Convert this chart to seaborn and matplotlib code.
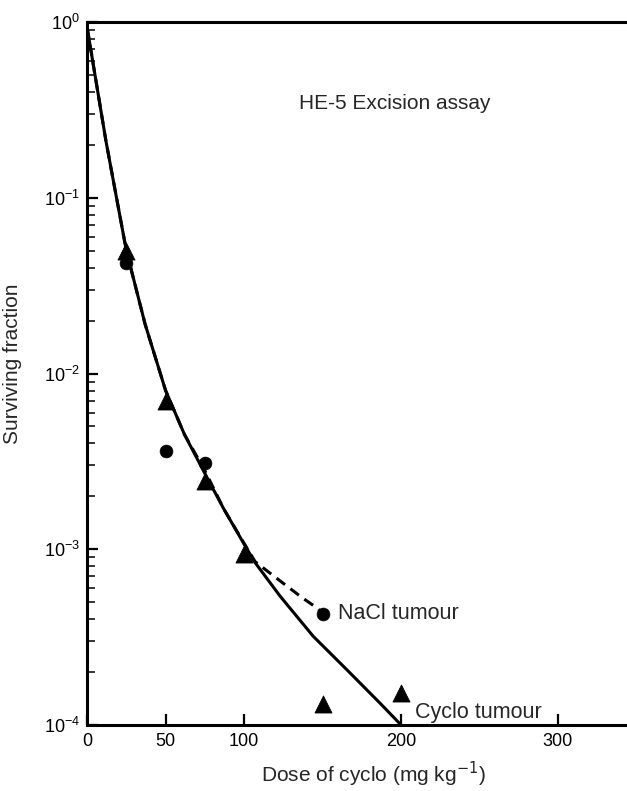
import numpy as np
import pandas as pd
import matplotlib
matplotlib.use("Agg")
import matplotlib.pyplot as plt
import seaborn as sns

# Data points
cyclo_dose = [25, 50, 75, 100, 150, 200]
cyclo_sf = [0.050, 0.0070, 0.00246, 0.00094, 0.000132, 0.000152]
nacl_dose = [25, 50, 75, 150]
nacl_sf = [0.0424, 0.00364, 0.00311, 0.00043]

# Fitted curves
cyclo_fit_dose = [0, 12, 25, 37, 50, 62, 75, 87, 100, 107, 123, 144, 166, 187, 200]
cyclo_fit_sf = [0.93, 0.21, 0.05, 0.019, 0.0080, 0.0045, 0.0027, 0.0017,
                0.00107, 0.00084, 0.00054, 0.00032, 0.000204, 0.000132, 0.0001]
nacl_fit_dose = [0, 12, 25, 37, 50, 62, 75, 87, 100, 107, 123, 137, 147, 150]
nacl_fit_sf = [0.93, 0.21, 0.05, 0.019, 0.0080, 0.0045, 0.0028, 0.0017,
               0.00108, 0.00085, 0.00066, 0.00053, 0.00046, 0.00043]

x_ticks = [0, 50, 100, 200, 300]

sns.set_style("ticks")
plt.rcParams['font.family'] = ['Liberation Sans', 'DejaVu Sans']

fig = plt.figure(figsize=(6.27, 7.91), dpi=100)
ax = fig.add_axes([0.139, 0.0835, 0.861, 0.8885])

sns.lineplot(x=cyclo_fit_dose, y=cyclo_fit_sf, ax=ax, color='black', lw=2.2)
sns.lineplot(x=nacl_fit_dose, y=nacl_fit_sf, ax=ax, color='black', lw=2.2,
             linestyle=(0, (3.5, 2.2)))
sns.scatterplot(x=cyclo_dose, y=cyclo_sf, ax=ax, marker='^', s=150,
                color='black', edgecolor='black', linewidth=0.6, zorder=5)
sns.scatterplot(x=nacl_dose, y=nacl_sf, ax=ax, marker='o', s=85,
                color='black', edgecolor='black', linewidth=0.5, zorder=5)

ax.set_yscale('log')
ax.set_xlim(0, 344)
ax.set_ylim(1e-4, 1)
ax.set_xticks(x_ticks)
ax.set_xticklabels([str(t) for t in x_ticks])
ax.tick_params(axis='both', which='major', direction='in', length=8, width=1.6,
               labelsize=13, colors='black')
ax.tick_params(axis='y', which='minor', direction='in', length=5.5, width=1.3)
ax.tick_params(axis='x', which='major', pad=6)
ax.tick_params(axis='y', which='major', pad=5)

for s in ['left', 'bottom', 'top']:
    ax.spines[s].set_linewidth(2.2)
    ax.spines[s].set_color('black')
ax.spines['right'].set_visible(False)

ax.set_xlabel('Dose of cyclo (mg kg$^{-1}$)', fontsize=15)
ax.xaxis.set_label_coords(0.53, -0.05)
ax.set_ylabel('Surviving fraction', fontsize=15)
ax.yaxis.set_label_coords(-0.12, 0.514)

ax.text(135, 0.345, 'HE-5 Excision assay', fontsize=15, va='center', ha='left')
ax.text(160, 0.00043, 'NaCl tumour', fontsize=15.5, va='center', ha='left')
ax.text(209, 0.000118, 'Cyclo tumour', fontsize=15.5, va='center', ha='left')

fig.savefig('out.png', dpi=100)
